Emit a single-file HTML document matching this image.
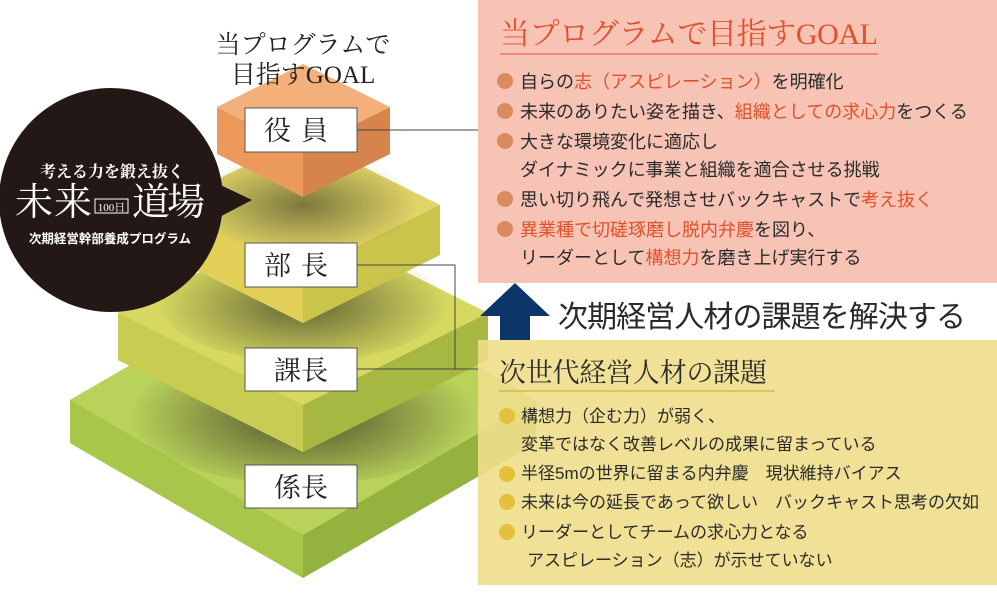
<!DOCTYPE html>
<html><head><meta charset="utf-8"><style>
html,body{margin:0;padding:0;background:#fff;}
svg{display:block;}
.serif{font-family:"Liberation Serif","Noto Serif CJK SC",serif;}
.sans{font-family:"Liberation Sans","Noto Sans CJK JP",sans-serif;}
</style></head><body>
<svg width="997" height="595" viewBox="0 0 997 595" xmlns="http://www.w3.org/2000/svg">
<defs>
<radialGradient id="sh" cx="0.5" cy="0.55" r="0.5"><stop offset="0" stop-color="#4a4a2a" stop-opacity="0.95"/><stop offset="1" stop-color="#4a4a2a" stop-opacity="0"/></radialGradient>
</defs>
<!-- layer 4 -->
<polygon points="303,265 536,400 536,443 303,578 70,443 70,400" fill="#a4c145"/>
<polygon points="70,400 303,535 303,578 70,443" fill="#a8c64a"/>
<polygon points="536,400 303,535 303,578 536,443" fill="#93b33e"/>
<polygon points="303,265 536,400 303,535 70,400" fill="#b9d35a"/>
<ellipse cx="303" cy="410" rx="175" ry="75" fill="url(#sh)"/>
<!-- layer 3 -->
<polygon points="303,221 488,313 488,360 303,452 118,360 118,313" fill="#c5cc4f"/>
<polygon points="118,313 303,405 303,452 118,360" fill="#c8cc52"/>
<polygon points="488,313 303,405 303,452 488,360" fill="#a7b842"/>
<polygon points="303,221 488,313 303,405 118,313" fill="#d6d860"/>
<ellipse cx="303" cy="300" rx="145" ry="62" fill="url(#sh)" opacity="0.85"/>
<!-- layer 2 -->
<polygon points="303,137 440,205 440,255 303,323 166,255 166,205" fill="#d9c950"/>
<polygon points="166,205 303,273 303,323 166,255" fill="#e2cf58"/>
<polygon points="440,205 303,273 303,323 440,255" fill="#cbc44a"/>
<polygon points="303,137 440,205 303,273 166,205" fill="#e0d466"/>
<ellipse cx="303" cy="200" rx="115" ry="50" fill="url(#sh)" opacity="0.7"/>
<!-- layer 1 -->
<polygon points="217,107 303,150 303,197 217,154" fill="#ec9a5c"/>
<polygon points="390,107 303,150 303,197 390,154" fill="#d5854b"/>
<polygon points="303,64 390,107 303,150 217,107" fill="#f4b07a"/>
<!-- connectors -->
<g stroke="#444" stroke-width="1" fill="none">
<line x1="357" y1="130" x2="478" y2="130"/>
<polyline points="357,265 455,265 455,369 478,369"/>
<line x1="357" y1="369" x2="478" y2="369"/>
</g>
<!-- labels -->
<g stroke="#555" stroke-width="1" fill="#fff">
<rect x="245" y="108" width="112" height="44"/>
<rect x="245" y="243" width="112" height="44"/>
<rect x="245" y="348" width="112" height="43"/>
<rect x="245" y="465" width="112" height="43"/>
</g>
<g class="serif" font-size="27" fill="#222" text-anchor="middle">
<text x="301" y="140" letter-spacing="10">役員</text>
<text x="301" y="275" letter-spacing="10">部長</text>
<text x="301" y="380">課長</text>
<text x="301" y="497">係長</text>
</g>
<text class="serif" x="303" y="53" font-size="25" fill="#222" text-anchor="middle">当プログラムで</text>
<text class="serif" x="303" y="83" font-size="25" fill="#222" text-anchor="middle">目指すGOAL</text>
<!-- black circle -->
<circle cx="111" cy="200" r="112" fill="#231815"/>
<polygon points="210,180 252,200 210,222" fill="#231815"/>
<text class="serif" x="112" y="177" font-size="16" font-weight="bold" fill="#fff" text-anchor="middle">考える力を鍛え抜く</text>
<text class="serif" x="15" y="215" font-size="38" fill="#fff" textLength="77">未来</text>
<rect x="95" y="199" width="33" height="14" fill="none" stroke="#fff" stroke-width="1"/>
<text class="serif" x="111.5" y="211" font-size="11" fill="#fff" text-anchor="middle">100日</text>
<text class="serif" x="132" y="215" font-size="38" fill="#fff" textLength="73">道場</text>
<text class="sans" x="110" y="243" font-size="12.5" font-weight="bold" fill="#fff" text-anchor="middle">次期経営幹部養成プログラム</text>
<!-- pink panel -->
<rect x="478" y="0" width="519" height="283" fill="#f6c3b5"/>
<text class="serif" x="500" y="44" font-size="30" fill="#e0512b" textLength="378">当プログラムで目指すGOAL</text>
<line x1="500" y1="54" x2="878" y2="54" stroke="#e0512b" stroke-width="1"/>
<g fill="#d98a5f">
<circle cx="505" cy="81" r="8"/><circle cx="505" cy="111" r="8"/><circle cx="505" cy="141" r="8"/><circle cx="505" cy="199" r="8"/><circle cx="505" cy="229" r="8"/>
</g>
<g class="sans" font-size="18" fill="#2a2a2a">
<text x="520" y="88">自らの<tspan fill="#e0512b">志（アスピレーション）</tspan>を明確化</text>
<text x="520" y="118">未来のありたい姿を描き、<tspan fill="#e0512b">組織としての求心力</tspan>をつくる</text>
<text x="520" y="148">大きな環境変化に適応し</text>
<text x="520" y="176">ダイナミックに事業と組織を適合させる挑戦</text>
<text x="520" y="206">思い切り飛んで発想させバックキャストで<tspan fill="#e0512b">考え抜く</tspan></text>
<text x="520" y="236"><tspan fill="#e0512b">異業種で切磋琢磨し脱内弁慶</tspan>を図り、</text>
<text x="520" y="264">リーダーとして<tspan fill="#e0512b">構想力</tspan>を磨き上げ実行する</text>
</g>
<!-- arrow -->
<polygon points="515,283 550,316 530,316 530,340 500,340 500,316 480,316" fill="#0d3568"/>
<text class="sans" x="558" y="327" font-size="30" fill="#2a2a2a" textLength="408">次期経営人材の課題を解決する</text>
<!-- yellow panel -->
<rect x="478" y="340" width="519" height="245" fill="#efde8c" opacity="0.9"/>
<text class="serif" x="499" y="382" font-size="27" fill="#2a2a2a" textLength="268">次世代経営人材の課題</text>
<line x1="499" y1="391" x2="775" y2="391" stroke="#c7a92c" stroke-width="1"/>
<g fill="#e3c13a">
<circle cx="507" cy="416" r="8"/><circle cx="507" cy="474" r="8"/><circle cx="507" cy="502" r="8"/><circle cx="507" cy="532" r="8"/>
</g>
<g class="sans" font-size="17" fill="#2a2a2a">
<text x="521" y="422">構想力（企む力）が弱く、</text>
<text x="521" y="450">変革ではなく改善レベルの成果に留まっている</text>
<text x="521" y="479">半径5mの世界に留まる内弁慶　現状維持バイアス</text>
<text x="521" y="508">未来は今の延長であって欲しい　バックキャスト思考の欠如</text>
<text x="521" y="538">リーダーとしてチームの求心力となる</text>
<text x="527" y="566">アスピレーション（志）が示せていない</text>
</g>
</svg>
</body></html>
